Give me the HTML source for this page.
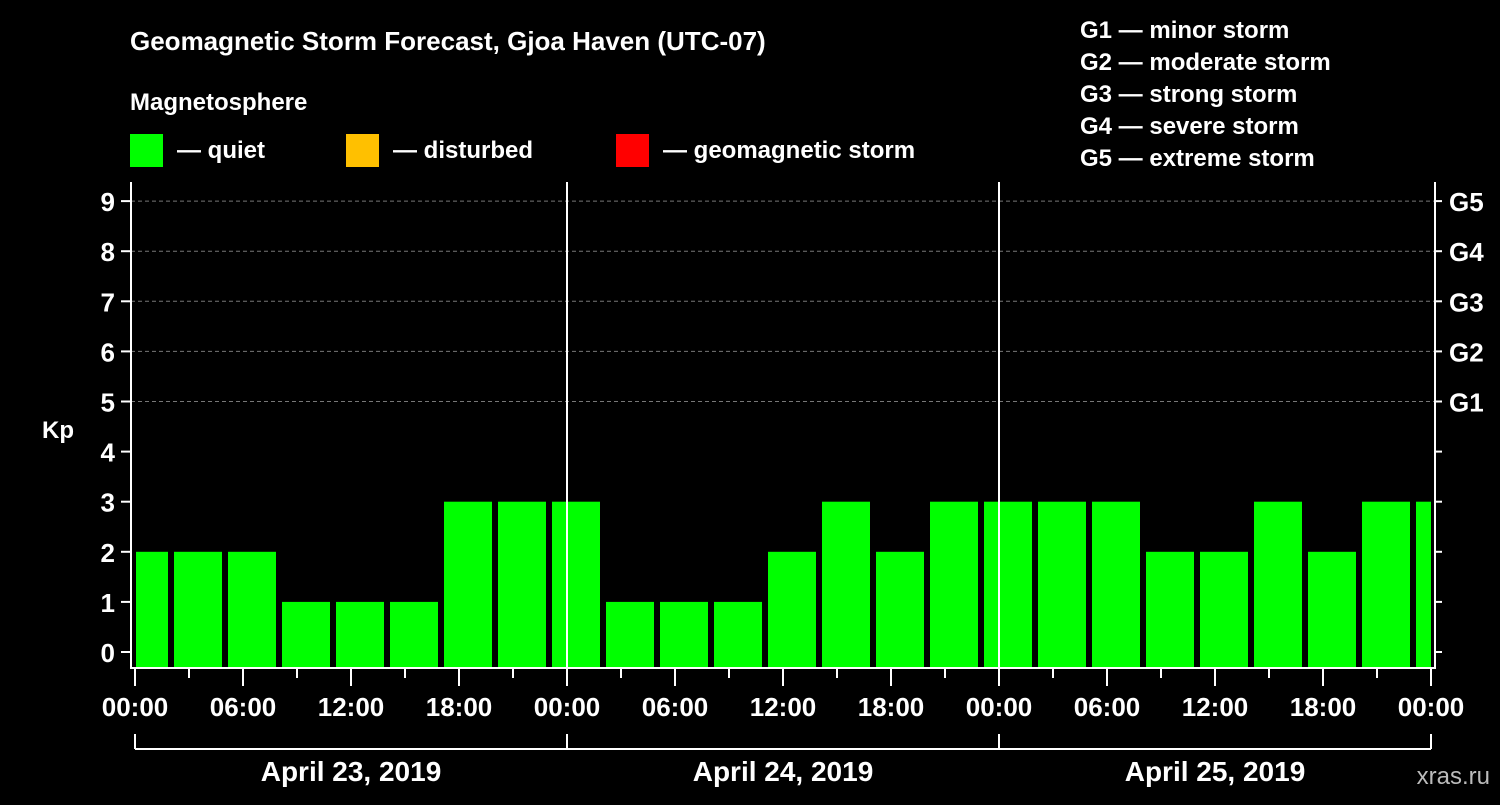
<!DOCTYPE html>
<html><head><meta charset="utf-8"><style>
body{margin:0;background:#000;width:1500px;height:800px;overflow:hidden}
svg text{font-family:"Liberation Sans",sans-serif;font-weight:bold;fill:#fff}
</style></head><body>
<svg id="c" width="1500" height="800">
<text x="130" y="50" font-size="26">Geomagnetic Storm Forecast, Gjoa Haven (UTC-07)</text>
<text x="130" y="110" font-size="24">Magnetosphere</text>
<rect x="130" y="134" width="33" height="33" fill="#00ff00"/>
<text x="177" y="158" font-size="24">— quiet</text>
<rect x="346" y="134" width="33" height="33" fill="#ffc000"/>
<text x="393" y="158" font-size="24">— disturbed</text>
<rect x="616" y="134" width="33" height="33" fill="#ff0000"/>
<text x="663" y="158" font-size="24">— geomagnetic storm</text>
<text x="1080" y="38" font-size="24">G1 — minor storm</text>
<text x="1080" y="70" font-size="24">G2 — moderate storm</text>
<text x="1080" y="102" font-size="24">G3 — strong storm</text>
<text x="1080" y="134" font-size="24">G4 — severe storm</text>
<text x="1080" y="166" font-size="24">G5 — extreme storm</text>
<text x="42" y="438" font-size="24">Kp</text>
<text x="1490" y="784" font-size="24" text-anchor="end" fill="#bbb" style="fill:#bbb;font-weight:normal">xras.ru</text>
<g id="grid"></g><g id="bars"></g><g id="axes"></g>
</svg>
<script>
const kpValues=[2,2,2,1,1,1,3,3,3,1,1,1,2,3,2,3,3,3,3,2,2,3,2,3,3];
const barStartHours=[-1,2,5,8,11,14,17,20,23,26,29,32,35,38,41,44,47,50,53,56,59,62,65,68,71];
const yTicks=[0,1,2,3,4,5,6,7,8,9];
const gLabels=["G1","G2","G3","G4","G5"];
const gLevels=[5,6,7,8,9];
const xTickLabels=["00:00","06:00","12:00","18:00","00:00","06:00","12:00","18:00","00:00","06:00","12:00","18:00","00:00"];
const dayLabels=["April 23, 2019","April 24, 2019","April 25, 2019"];
const NS="http://www.w3.org/2000/svg";
const X0=135,HW=18,TMAX=72;
const xs=h=>X0+h*HW;
const ys=v=>652-v*50.1;
function mk(p,t,a){const e=document.createElementNS(NS,t);for(const k in a)e.setAttribute(k,a[k]);p.appendChild(e);return e;}
const grid=document.getElementById('grid'),bars=document.getElementById('bars'),axes=document.getElementById('axes');
gLevels.forEach((v,i)=>{
 const l=mk(grid,'line',{x1:131,x2:1435,y1:ys(v),y2:ys(v),stroke:'#777','stroke-dasharray':'4,3'});
 
 
 const t=mk(axes,'text',{x:1449,y:ys(v)+10,'font-size':26});t.textContent=gLabels[i];
 
 
});
kpValues.forEach((v,i)=>{
 const a=Math.max(0,barStartHours[i]),b=Math.min(TMAX,barStartHours[i]+3);
 const x1=barStartHours[i]<0?xs(a)+1:xs(a)+3, x2=barStartHours[i]+3>TMAX?xs(b):xs(b)-3;
 const r=mk(bars,'rect',{x:x1,y:ys(v),width:x2-x1,height:667-ys(v),fill:'#00ff00'});
 
 
});
[24,48].forEach(h=>{const l=mk(axes,'line',{x1:xs(h),x2:xs(h),y1:182,y2:668,stroke:'#fff','stroke-width':2});
 
 });
const f=mk(axes,'path',{d:'M131,182V668H1435V182',fill:'none',stroke:'#fff','stroke-width':2});


yTicks.forEach(v=>{
 mk(axes,'line',{x1:121,x2:131,y1:ys(v),y2:ys(v),stroke:'#fff','stroke-width':2});
 mk(axes,'line',{x1:1435,x2:1442,y1:ys(v),y2:ys(v),stroke:'#fff','stroke-width':2});
 const t=mk(axes,'text',{x:115,y:ys(v)+10,'font-size':26,'text-anchor':'end'});t.textContent=v;
 
 
});
for(let h=0;h<=TMAX;h+=3){
 mk(axes,'line',{x1:xs(h),x2:xs(h),y1:668,y2:h%6==0?686:678,stroke:'#fff','stroke-width':2});
}
xTickLabels.forEach((s,i)=>{
 const t=mk(axes,'text',{x:xs(i*6),y:716,'font-size':26,'text-anchor':'middle'});t.textContent=s;
 
 
});
mk(axes,'line',{x1:xs(0),x2:xs(72),y1:749,y2:749,stroke:'#fff','stroke-width':2});
[0,24,48,72].forEach(h=>mk(axes,'line',{x1:xs(h),x2:xs(h),y1:734,y2:749,stroke:'#fff','stroke-width':2}));
dayLabels.forEach((s,i)=>{
 const t=mk(axes,'text',{x:xs(i*24+12),y:781,'font-size':28,'text-anchor':'middle'});t.textContent=s;
 
 
});
</script>
</body></html>
